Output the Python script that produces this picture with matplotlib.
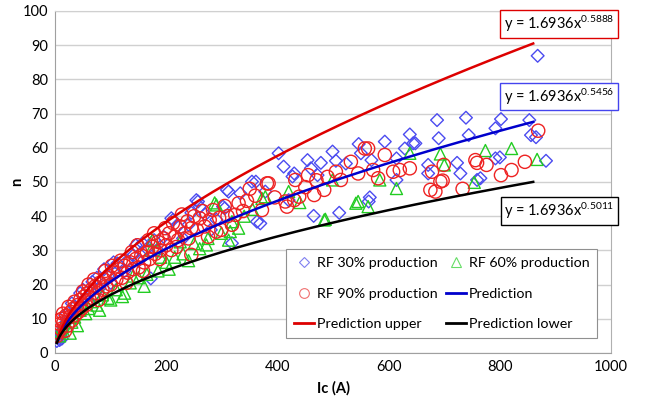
import numpy as np
import matplotlib.pyplot as plt

plt.rcParams['font.family'] = ['Lato', 'DejaVu Sans']
plt.rcParams['mathtext.fontset'] = 'custom'
plt.rcParams['mathtext.rm'] = 'Lato'
plt.rcParams['mathtext.it'] = 'Lato:italic'

# RF 30% production
ic_30 = [5, 8, 10, 12, 15, 20, 30, 40, 45, 55, 60, 67, 75, 80, 95, 100, 112, 125, 140, 150,
         157, 165, 172, 185, 195, 209, 212, 230, 240, 254, 257, 260, 270, 280, 290, 302, 305,
         309, 312, 318, 333, 354, 361, 363, 369, 378, 402, 411, 420, 427, 430, 454, 460, 465,
         472, 478, 499, 505, 511, 523, 546, 550, 564, 566, 569, 593, 614, 614, 629, 638, 644,
         648, 671, 671, 687, 690, 723, 729, 739, 744, 759, 765, 792, 792, 800, 802, 853, 856,
         865, 868, 883,
         3, 7, 18, 25, 35, 50, 70, 88, 105, 130, 145, 178, 220, 245]
n_30 = [4.5, 3.8, 5.0, 4.2, 7.5, 9.0, 14.5, 12.5, 17.5, 16.0, 15.0, 20.8, 22.0, 19.0, 22.5, 20.5,
        26.2, 24.0, 28.5, 27.0, 32.1, 30.5, 21.8, 30.0, 34.0, 39.4, 38.9, 33.5, 37.5, 44.7, 44.3,
        42.8, 40.5, 36.0, 39.0, 42.8, 42.3, 47.7, 47.2, 32.1, 46.7, 50.1, 50.1, 38.4, 37.9, 47.2,
        58.4, 54.5, 44.7, 51.6, 52.5, 56.4, 54.0, 40.1, 52.0, 55.6, 58.9, 56.2, 41.0, 55.4, 61.1,
        58.4, 44.3, 45.5, 56.4, 61.8, 56.9, 50.6, 59.8, 63.9, 61.3, 61.3, 55.0, 52.5, 68.1, 62.8,
        55.6, 52.5, 68.8, 63.7, 50.6, 51.1, 65.7, 56.9, 57.2, 68.4, 68.1, 63.7, 63.1, 86.9, 56.2,
        3.5, 5.5, 11.0, 10.0, 13.5, 18.5, 17.0, 24.5, 26.5, 27.0, 31.5, 33.0, 37.0, 41.0]

# RF 60% production
ic_60 = [8, 15, 22, 27, 35, 45, 55, 65, 75, 85, 95, 110, 121, 135, 150, 160, 172, 175, 185, 200,
         215, 230, 250, 272, 275, 287, 290, 299, 312, 315, 318, 340, 372, 378, 420, 440, 484,
         486, 499, 541, 545, 563, 584, 614, 638, 693, 700, 754, 774, 821, 867,
         12, 30, 40, 60, 80, 100, 125, 140, 165, 190, 205, 225, 240, 260, 330, 355]
n_60 = [5.0, 6.5, 8.0, 5.8, 10.5, 12.5, 11.5, 15.0, 14.0, 17.0, 16.0, 18.5, 16.5, 20.5, 22.0,
        19.5, 30.1, 33.0, 24.0, 26.5, 28.0, 29.0, 32.0, 31.6, 33.5, 43.9, 43.3, 35.0, 33.0, 35.5,
        38.4, 40.0, 45.2, 45.7, 47.2, 44.0, 38.9, 39.1, 50.6, 43.8, 44.3, 42.8, 50.6, 48.1, 58.4,
        58.2, 55.0, 49.9, 59.2, 59.8, 56.6,
        7.5, 9.0, 8.0, 13.0, 12.5, 15.5, 17.5, 22.5, 23.0, 28.0, 24.5, 32.5, 27.0, 30.5, 36.5, 42.0]

# RF 90% production
ic_90 = [5, 8, 10, 12, 15, 18, 20, 22, 25, 28, 30, 33, 36, 40, 42, 45, 48, 52, 55, 58, 62, 65,
         68, 72, 75, 80, 85, 88, 92, 96, 100, 105, 110, 115, 120, 125, 130, 135, 140, 145, 150,
         155, 160, 165, 170, 175, 180, 185, 190, 195, 200, 205, 209, 215, 221, 225, 233, 238,
         245, 245, 250, 260, 269, 278, 284, 290, 299, 310, 324, 330, 345, 360, 372, 381, 384,
         395, 414, 417, 430, 432, 439, 450, 455, 466, 470, 484, 490, 505, 514, 532, 545, 557,
         563, 572, 581, 593, 608, 620, 638, 675, 678, 684, 693, 697, 699, 733, 756, 759, 776,
         802, 821, 845, 869,
         3, 6, 14, 24, 35, 50, 60, 70, 78, 90, 102, 118, 128, 138, 148, 158, 168, 178, 188,
         198, 212, 218, 228, 240, 255, 265, 275, 295, 305, 318, 338, 350]
n_90 = [6.0, 8.5, 7.0, 10.0, 9.0, 6.5, 11.0, 8.0, 10.5, 12.0, 9.5, 13.0, 11.0, 14.0, 12.0, 15.5,
        13.0, 16.5, 14.0, 17.5, 15.5, 18.5, 16.0, 19.5, 17.5, 20.5, 18.5, 21.5, 19.5, 22.5, 20.0,
        23.5, 21.5, 24.5, 22.0, 25.5, 23.5, 26.5, 24.5, 27.5, 25.0, 28.5, 26.5, 29.5, 27.5, 31.0,
        29.0, 32.5, 30.0, 33.5, 31.5, 35.0, 30.1, 34.0, 33.0, 37.0, 35.0, 38.5, 36.5, 28.7, 40.0,
        39.4, 37.0, 38.9, 41.8, 35.5, 36.0, 40.0, 40.4, 43.8, 44.5, 46.0, 41.8, 49.6, 49.6, 45.5,
        44.3, 42.8, 44.7, 50.6, 45.7, 48.5, 52.0, 46.2, 50.5, 47.7, 51.5, 53.0, 50.6, 55.9, 52.5,
        59.8, 59.8, 53.5, 51.1, 57.9, 53.0, 53.5, 54.0, 47.7, 53.0, 47.2, 50.1, 50.4, 55.0, 48.0,
        56.4, 55.6, 55.0, 52.0, 53.5, 55.9, 65.0,
        5.0, 9.5, 11.5, 13.5, 15.0, 18.0, 20.0, 21.5, 15.5, 24.0, 25.5, 27.0, 20.5, 29.5, 31.5,
        24.0, 33.0, 35.0, 27.5, 36.5, 38.0, 31.0, 40.5, 33.5, 36.0, 41.5, 34.0, 39.5, 43.0, 37.5,
        41.5, 48.0]

# fitted power laws n = a * Ic^b
coef = 1.6936
exp_pred = 0.5456
exp_upper = 0.5888
exp_lower = 0.5011
ic_fit = np.linspace(3, 860, 300)

fig, ax = plt.subplots(figsize=(6.49, 4.0), dpi=100)
fig.subplots_adjust(left=0.085, right=0.9415, bottom=0.1175, top=0.9725)

ax.scatter(ic_30, n_30, marker='D', s=42, facecolors='none', edgecolors='#4b4bf0',
           linewidths=1.0, zorder=3)
ax.scatter(ic_60, n_60, marker='^', s=75, facecolors='none', edgecolors='#22cc22',
           linewidths=1.0, zorder=3)
ax.scatter(ic_90, n_90, marker='o', s=90, facecolors='none', edgecolors='#ee2222',
           linewidths=1.0, zorder=3)

ax.plot(ic_fit, coef * ic_fit ** exp_pred, color='#0000cc', lw=1.8, zorder=4)
ax.plot(ic_fit, coef * ic_fit ** exp_upper, color='#dd0000', lw=1.8, zorder=4)
ax.plot(ic_fit, coef * ic_fit ** exp_lower, color='black', lw=1.8, zorder=4)

box_kw = dict(boxstyle='square,pad=0.25', facecolor='white', lw=1.0)
ax.text(907, 96.2, 'y = 1.6936x$^{%s}$' % exp_upper, ha='center', va='center', fontsize=10.5,
        bbox=dict(edgecolor='#dd0000', **box_kw), zorder=5)
ax.text(907, 75.0, 'y = 1.6936x$^{%s}$' % exp_pred, ha='center', va='center', fontsize=10.5,
        bbox=dict(edgecolor='#4444ee', **box_kw), zorder=5)
ax.text(907, 41.5, 'y = 1.6936x$^{%s}$' % exp_lower, ha='center', va='center', fontsize=10.5,
        bbox=dict(edgecolor='black', **box_kw), zorder=5)

ax.set_xlim(0, 1000)
ax.set_ylim(0, 100)
ax.set_xticks(range(0, 1001, 200))
ax.set_yticks(range(0, 101, 10))
ax.yaxis.grid(True, color='#d0d0d0', lw=1.0)
ax.set_axisbelow(True)
ax.tick_params(length=0, labelsize=10.5, pad=5)
for side in ['left', 'bottom']:
    ax.spines[side].set_color('#a0a0a0')
ax.spines['top'].set_color('#d0d0d0')
ax.spines['right'].set_color('#b0b0b0')
ax.set_xlabel('Ic (A)', fontsize=10.5, fontweight='bold', labelpad=5)
ax.set_ylabel('n', fontsize=10.5, fontweight='bold', labelpad=-1)

h30 = plt.Line2D([], [], ls='none', marker='D', ms=5, mfc='none', mec='#8080f0', mew=0.8)
h60 = plt.Line2D([], [], ls='none', marker='^', ms=6.5, mfc='none', mec='#66dd66', mew=0.8)
h90 = plt.Line2D([], [], ls='none', marker='o', ms=7, mfc='none', mec='#f07070', mew=0.8)
hp = plt.Line2D([], [], color='#0000cc', lw=2)
hu = plt.Line2D([], [], color='#dd0000', lw=2)
hl = plt.Line2D([], [], color='black', lw=2)
leg = ax.legend([h30, h90, hu, h60, hp, hl],
                ['RF 30% production', 'RF 90% production', 'Prediction upper',
                 'RF 60% production', 'Prediction', 'Prediction lower'],
                ncol=2, loc='lower right', bbox_to_anchor=(0.988, 0.022), fontsize=10.3,
                frameon=True, fancybox=False, framealpha=1, edgecolor='#909090',
                handlelength=1.4, handletextpad=0.2, labelspacing=1.3, columnspacing=0.6,
                borderpad=0.55)
leg.get_frame().set_linewidth(0.8)
leg.set_zorder(6)

fig.savefig('out.png', dpi=100)
